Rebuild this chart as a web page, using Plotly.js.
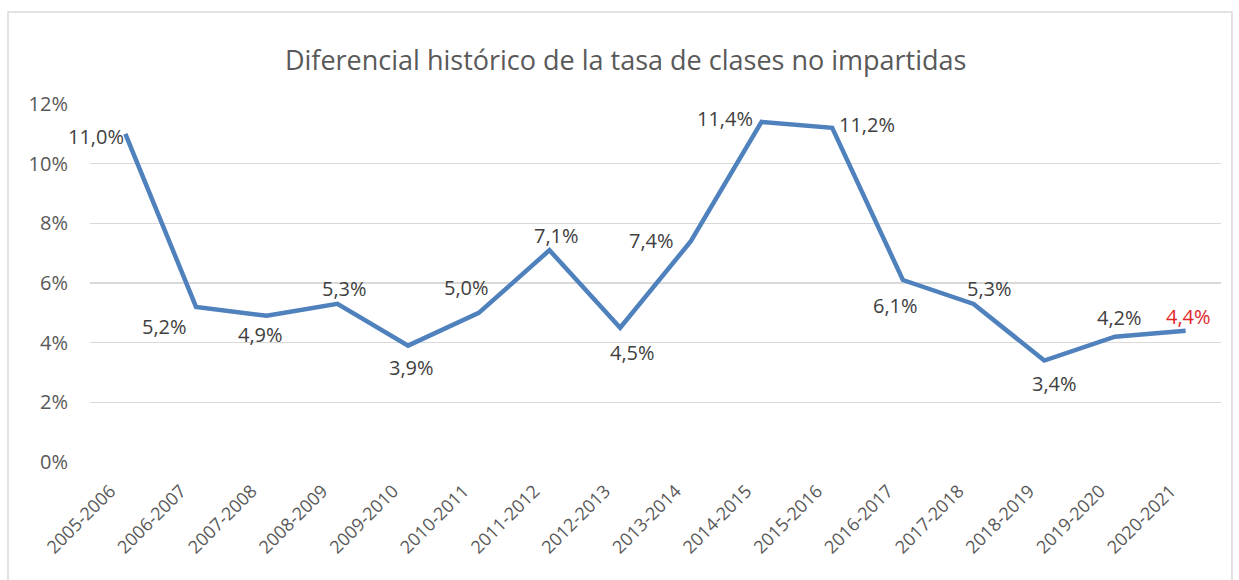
<!DOCTYPE html>
<html><head><meta charset="utf-8">
<script src="https://cdn.plot.ly/plotly-3.0.1.min.js"></script>
<style>html,body{margin:0;padding:0;background:#fff}#chart{width:1239px;height:580px}</style>
</head><body><div id="chart"></div>
<script>
const categories = ["2005-2006","2006-2007","2007-2008","2008-2009","2009-2010","2010-2011","2011-2012","2012-2013","2013-2014","2014-2015","2015-2016","2016-2017","2017-2018","2018-2019","2019-2020","2020-2021"];
const values = [11.0,5.2,4.9,5.3,3.9,5.0,7.1,4.5,7.4,11.4,11.2,6.1,5.3,3.4,4.2,4.4];
const yTicks = [0,2,4,6,8,10,12];

// label offsets in pixels (dx right, dy down) relative to each point
const labelDx = [-29,-32,-6,7,3,-12,7,12,-39,-37,35,-7,16,10,5,3];
const labelDy = [3,20,19,-15,22,-25,-15,25,-1,-3,-3,25,-15,23,-19,-14];

const labels = values.map(v => v.toFixed(1).replace('.', ',') + '%');

const trace = {
  x: categories, y: values, type: 'scatter', mode: 'lines',
  line: {color: '#4f81bd', width: 4.5},
  hoverinfo: 'skip'
};

const annotations = values.map((v, i) => ({
  x: categories[i], y: v, xref: 'x', yref: 'y', text: labels[i], showarrow: false,
  xanchor: 'center', yanchor: 'middle', xshift: labelDx[i], yshift: -labelDy[i],
  font: {family: 'Open Sans, sans-serif', size: 20, color: i === values.length - 1 ? '#e0262b' : '#404040'}
}));

const layout = {
  width: 1239, height: 580,
  margin: {l: 90, r: 18, t: 104, b: 118},
  paper_bgcolor: '#fff', plot_bgcolor: '#fff',
  showlegend: false,
  title: {text: 'Diferencial histórico de la tasa de clases no impartidas', x: 0.505, xanchor: 'center', y: 0.895, yanchor: 'middle',
    font: {family: 'Open Sans, sans-serif', size: 27, color: '#595959'}},
  xaxis: {type: 'category', range: [-0.5, 15.5], showgrid: false, zeroline: false, showline: false,
    tickangle: -45, ticks: '', ticklabelstandoff: 14, ticklabelshift: -15,
    tickfont: {family: 'Open Sans, sans-serif', size: 18, color: '#595959'}},
  yaxis: {range: [0, 12], tickvals: yTicks, ticktext: yTicks.map(t => t + '%'), showgrid: true, gridcolor: '#d9d9d9', gridwidth: 1.5,
    zeroline: false, showline: false, ticks: '', ticklen: 0, ticklabelstandoff: 21,
    tickfont: {family: 'Open Sans, sans-serif', size: 20, color: '#595959'}},
  annotations: annotations,
  shapes: [{type: 'rect', xref: 'paper', yref: 'paper', x0: -0.0725, x1: 1.0097, y0: -0.5, y1: 1.257,
    line: {color: '#d9d9d9', width: 1.5}, fillcolor: 'rgba(0,0,0,0)', layer: 'below'}]
};

Plotly.newPlot('chart', [trace], layout, {displayModeBar: false, staticPlot: true});
</script></body></html>
